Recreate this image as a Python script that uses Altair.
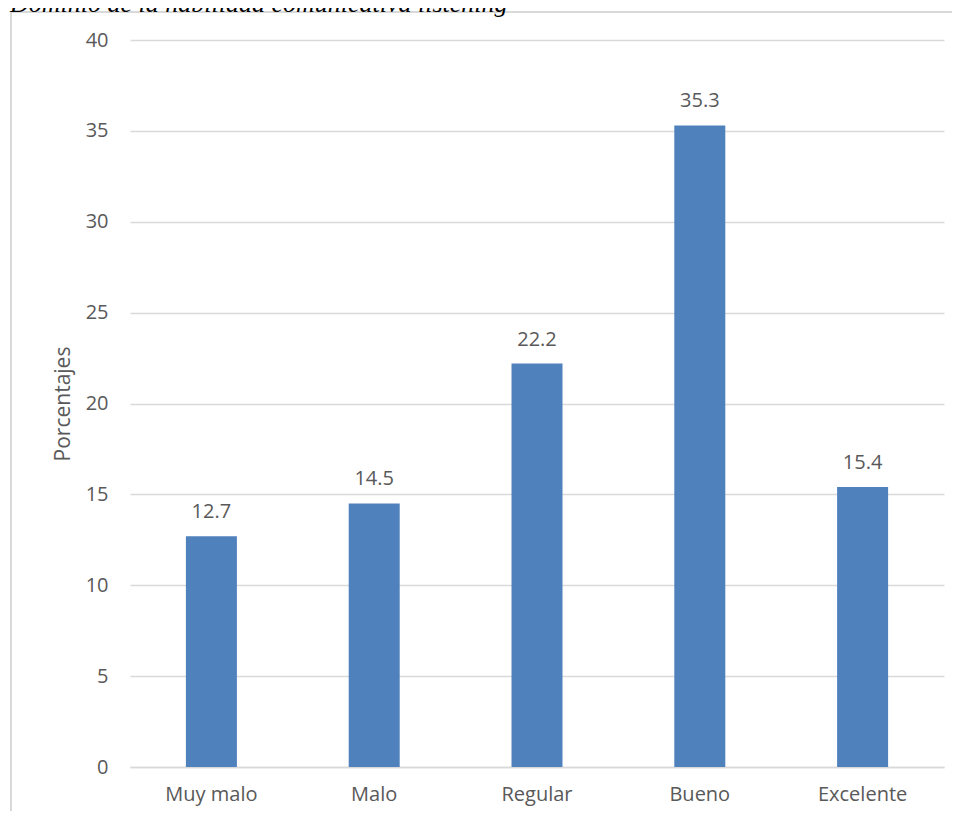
import altair as alt
import pandas as pd

categorias = ["Muy malo", "Malo", "Regular", "Bueno", "Excelente"]
porcentajes = [12.7, 14.5, 22.2, 35.3, 15.4]
etiquetas = ["12.7", "14.5", "22.2", "35.3", "15.4"]
titulo = "Dominio de la habilidad comunicativa listening"
eje_y = "Porcentajes"
y_ticks = [0, 5, 10, 15, 20, 25, 30, 35, 40]

df = pd.DataFrame({"cat": categorias, "val": porcentajes, "lab": etiquetas})

FONT = "Open Sans"
GRAY_TXT = "#595959"
GRID = "#D9D9D9"

W, H = 814, 727
PAD_L, PAD_T = 122, 32

x_enc = alt.X("cat:N", sort=categorias, title=None,
              scale=alt.Scale(paddingInner=0, paddingOuter=0),
              axis=alt.Axis(labelAngle=0, labelFont=FONT, labelFontSize=20,
                            labelColor=GRAY_TXT, ticks=False, domain=True,
                            domainColor=GRID, domainWidth=1.5, labelPadding=17,
                            grid=False))

bars = alt.Chart(df).mark_bar(size=51, color="#4F81BD").encode(
    x=x_enc,
    y=alt.Y("val:Q", title=eje_y,
            scale=alt.Scale(domain=[0, 40], nice=False),
            axis=alt.Axis(values=y_ticks, labelFont=FONT, labelFontSize=20,
                          labelColor=GRAY_TXT, ticks=False, domain=False,
                          gridColor=GRID, gridWidth=1.5, labelPadding=22,
                          titleFont=FONT, titleFontSize=21, titleColor=GRAY_TXT,
                          titleFontWeight="normal", titlePadding=12)),
)

labels = alt.Chart(df).mark_text(font=FONT, fontSize=20, color=GRAY_TXT,
                                 baseline="alphabetic", dy=-18).encode(
    x=alt.X("cat:N", sort=categorias),
    y="val:Q",
    text="lab:N",
)

title_df = pd.DataFrame({"t": [titulo]})
title_mark = alt.Chart(title_df).mark_text(
    font="Liberation Serif", fontSize=26, fontStyle="italic", color="#000000",
    align="left", baseline="alphabetic").encode(
    x=alt.value(-120), y=alt.value(-28), text="t:N")

frame_left = alt.Chart(title_df).mark_rule(color=GRID, strokeWidth=2).encode(
    x=alt.value(-119), y=alt.value(-28), y2=alt.value(H + 60))
frame_top = alt.Chart(title_df).mark_rule(color=GRID, strokeWidth=2).encode(
    x=alt.value(-120), x2=alt.value(W + 20), y=alt.value(-28))

chart = alt.layer(frame_left, frame_top, bars, labels, title_mark).properties(
    width=W, height=H,
    autosize=alt.AutoSizeParams(type="none"),
    padding={"left": PAD_L, "top": PAD_T, "right": 8, "bottom": 44},
).configure(background="white").configure_view(stroke=None, strokeWidth=0)

chart.save("out.html", embed_options={"renderer": "svg", "actions": False})
